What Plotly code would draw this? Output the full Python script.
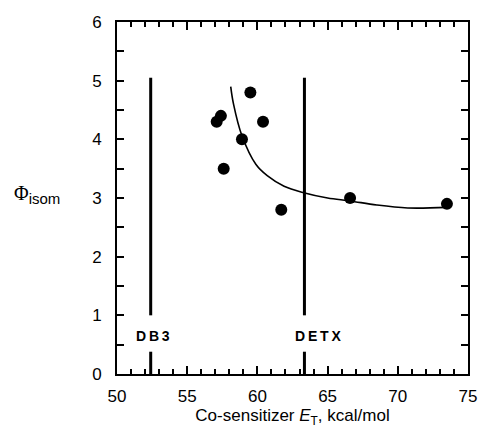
import plotly.graph_objects as go

# Data points (co-sensitizer triplet energy vs quantum yield)
et_points = [57.1, 57.4, 57.6, 58.9, 59.5, 60.4, 61.7, 66.6, 73.5]
phi_points = [4.3, 4.4, 3.5, 4.0, 4.8, 4.3, 2.8, 3.0, 2.9]

# Fitted curve
et_curve = [58.1, 58.3, 58.9, 59.9, 60.7, 61.9, 63.3, 65.0, 66.6, 68.5, 70.7, 73.5]
phi_curve = [4.9, 4.6, 4.06, 3.57, 3.38, 3.2, 3.09, 3.0, 2.95, 2.88, 2.83, 2.84]

# Reference sensitizers (vertical markers)
ref_names = ["DB3", "DETX"]
ref_et = [52.4, 63.35]
ref_line_top = 5.05
ref_line_bottom = 1.0
ref_stub_top = 0.38
ref_label_y = 0.64

x_ticks = [50, 55, 60, 65, 70, 75]
y_ticks = [0, 1, 2, 3, 4, 5, 6]

FONT = "Liberation Sans, Arial, Helvetica"

fig = go.Figure()

for name, xv in zip(ref_names, ref_et):
    fig.add_trace(go.Scatter(x=[xv, xv], y=[ref_line_bottom, ref_line_top], mode="lines",
                             line=dict(color="black", width=3), showlegend=False, hoverinfo="skip"))
    fig.add_trace(go.Scatter(x=[xv, xv], y=[0, ref_stub_top], mode="lines",
                             line=dict(color="black", width=3), showlegend=False, hoverinfo="skip"))
    fig.add_annotation(x=xv, y=ref_label_y, text="<b>" + "\u2009".join(name) + "</b>",
                       showarrow=False, xanchor="left", xshift=-17 if name == "DB3" else -11,
                       font=dict(family=FONT, size=14, color="black"))

fig.add_trace(go.Scatter(x=et_curve, y=phi_curve, mode="lines",
                         line=dict(color="black", width=1.6, shape="spline"),
                         showlegend=False))
fig.add_trace(go.Scatter(x=et_points, y=phi_points, mode="markers",
                         marker=dict(color="black", size=12), showlegend=False))

axis_common = dict(showline=True, linecolor="black", linewidth=2, mirror="ticks",
                   ticks="inside", tickcolor="black", showgrid=False, zeroline=False,
                   automargin=False,
                   tickfont=dict(family=FONT, size=17, color="black"))

fig.update_xaxes(range=[50, 75], tickvals=x_ticks, ticklen=8, tickwidth=2,
                 ticklabelstandoff=6,
                 minor=dict(dtick=1, ticklen=5, tickwidth=1.5, ticks="inside", tickcolor="black"),
                 title=dict(text="Co-sensitizer <i>E</i><sub>T</sub>, kcal/mol",
                            font=dict(family=FONT, size=17, color="black"),
                            standoff=1),
                 **axis_common)
fig.update_yaxes(range=[0, 6], tickvals=y_ticks, ticklen=7, tickwidth=2,
                 ticklabelstandoff=10,
                 minor=dict(dtick=0.5, ticklen=7, tickwidth=2, ticks="inside", tickcolor="black"),
                 **axis_common)

fig.add_annotation(xref="paper", yref="paper", x=-0.30, y=0.51, xanchor="left", yanchor="middle",
                   text="<span style='font-family:Liberation Serif;font-size:20px'>\u03a6</span>"
                        "<sub><span style='font-size:15px'>isom</span></sub>",
                   showarrow=False, font=dict(family=FONT, size=17, color="black"))

fig.update_layout(width=480, height=432, margin=dict(l=117, r=12, t=22, b=58),
                  plot_bgcolor="white", paper_bgcolor="white")

fig.write_html("out.html")
